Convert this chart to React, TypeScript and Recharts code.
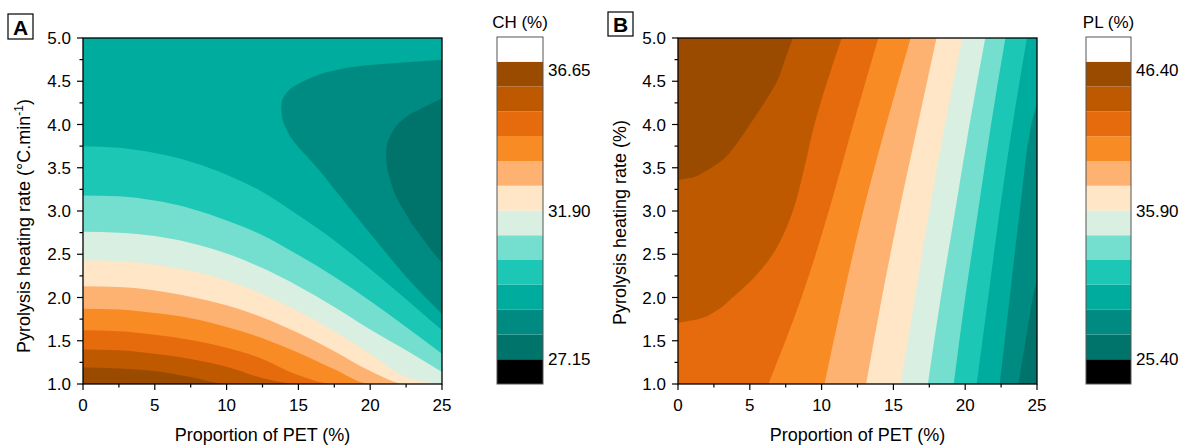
import React from 'react';
import { ComposedChart, Area, XAxis, YAxis, BarChart, Bar } from 'recharts';

const FONT = '"Liberation Sans", Arial, sans-serif';

// contour band colours, lowest band first
const bandColors = [
  '#00736b', '#008b82', '#00ac9d', '#1cc7b5', '#74dfce', '#d8efe1',
  '#fee6c6', '#fdb272', '#f88b23', '#e66b0d', '#bf5900', '#9a4b00',
];
const segColors = ['#000000', ...bandColors, '#ffffff'];

// axis ticks
const petTicks = [0, 2.5, 5, 7.5, 10, 12.5, 15, 17.5, 20, 22.5, 25];
const rateTicks = [1, 1.25, 1.5, 1.75, 2, 2.25, 2.5, 2.75, 3, 3.25, 3.5, 3.75, 4, 4.25, 4.5, 4.75, 5];

// colour bar levels
const chLevels = [26.36, 27.15, 27.94, 28.73, 29.53, 30.32, 31.11, 31.9, 32.69, 33.48, 34.28, 35.07, 35.86, 36.65, 37.44];
const chLabels = [27.15, 31.9, 36.65];
const plLevels = [23.65, 25.4, 27.15, 28.9, 30.65, 32.4, 34.15, 35.9, 37.65, 39.4, 41.15, 42.9, 44.65, 46.4, 48.15];
const plLabels = [25.4, 35.9, 46.4];

// panel A: CH contours, heating rate read at each PET value
const petGridA = [0, 2.5, 5, 7.5, 10, 12.5, 15, 17.5, 20, 22.5, 25];
const ch2953 = [3.75, 3.73, 3.67, 3.57, 3.42, 3.22, 2.95, 2.66, 2.33, 1.98, 1.62];
const ch3032 = [3.18, 3.17, 3.12, 3.03, 2.89, 2.72, 2.49, 2.24, 1.96, 1.66, 1.35];
const ch3111 = [2.76, 2.75, 2.71, 2.63, 2.51, 2.34, 2.13, 1.89, 1.63, 1.39, 1.14];
const ch3190 = [2.43, 2.42, 2.38, 2.31, 2.2, 2.04, 1.84, 1.61, 1.35, 1.08, 1.0];
const ch3269 = [2.13, 2.12, 2.08, 2.01, 1.91, 1.77, 1.59, 1.38, 1.15, 1.0, 1.0];
const ch3348 = [1.87, 1.86, 1.82, 1.76, 1.66, 1.53, 1.36, 1.17, 1.0, 1.0, 1.0];
const ch3428 = [1.62, 1.61, 1.57, 1.51, 1.42, 1.29, 1.1, 1.0, 1.0, 1.0, 1.0];
const ch3507 = [1.4, 1.39, 1.35, 1.29, 1.2, 1.07, 1.0, 1.0, 1.0, 1.0, 1.0];
const ch3586 = [1.19, 1.18, 1.15, 1.08, 1.0, 1.0, 1.0, 1.0, 1.0, 1.0, 1.0];

// panel A: closed low regions on the right (lower and upper heating rate)
const ch2873Pet = [13.8, 13.85, 13.95, 14.1, 14.3, 14.6, 15.1, 15.6, 16.5, 17.9, 20.2, 22.5, 25];
const ch2873Low = [4.19, 4.1, 4.03, 3.97, 3.9, 3.82, 3.72, 3.63, 3.46, 3.17, 2.7, 2.24, 1.81];
const ch2873High = [4.19, 4.27, 4.31, 4.35, 4.39, 4.43, 4.48, 4.52, 4.58, 4.64, 4.69, 4.72, 4.75];
const ch2794Pet = [21.1, 21.15, 21.25, 21.4, 21.6, 21.9, 22.3, 22.8, 23.4, 24.1, 25];
const ch2794Low = [3.67, 3.55, 3.45, 3.35, 3.25, 3.13, 3.02, 2.88, 2.74, 2.58, 2.4];
const ch2794High = [3.67, 3.75, 3.81, 3.87, 3.93, 4.0, 4.06, 4.12, 4.17, 4.23, 4.3];

// panel B: PL contours, PET read at each heating rate
const rateGridB = [1, 2, 3, 4, 5];
const pl2715Rate = [1, 1.5, 2, 2.27, 5];
const pl2715 = [23.7, 24.2, 24.7, 25, 25];
const pl2890Rate = [1, 2, 3, 4, 4.3, 5];
const pl2890 = [22.4, 23.1, 23.8, 24.6, 25, 25];
const pl3065 = [20.8, 21.6, 22.4, 23.3, 24.3];
const pl3240 = [19.2, 20.0, 20.9, 21.8, 22.8];
const pl3415 = [17.4, 18.3, 19.3, 20.3, 21.4];
const pl3590 = [15.5, 16.5, 17.5, 18.6, 19.8];
const pl3765 = [13.1, 14.2, 15.4, 16.7, 18.0];
const pl3940 = [10.2, 11.5, 12.9, 14.5, 16.2];
const pl4115 = [6.3, 8.6, 10.5, 12.2, 13.95];
const pl4290Rate = [1, 1.7, 1.75, 1.85, 2.0, 2.25, 2.5, 2.75, 3.0, 3.5, 4.0, 4.5, 5.0];
const pl4290 = [0, 0, 1.4, 2.7, 3.8, 5.4, 6.6, 7.4, 8.0, 8.8, 9.5, 10.4, 11.4];
const pl4465Rate = [1, 3.35, 3.39, 3.45, 3.59, 3.75, 4.0, 4.25, 4.5, 4.75, 5.0];
const pl4465 = [0, 0, 1.07, 1.8, 3.1, 3.95, 5.0, 6.0, 6.9, 7.45, 8.0];

const XTick = (props: any) => {
  const { x, y, payload } = props;
  const v = Number(payload.value);
  const major = Math.abs(v / 5 - Math.round(v / 5)) < 1e-6;
  return (
    <g>
      <line x1={x} x2={x} y1={y} y2={y + (major ? 6 : 3.5)} stroke="#000" strokeWidth={1.2} />
      {major && (
        <text x={x} y={y + 27} textAnchor="middle" fontSize={17} fontFamily={FONT} fill="#000">
          {v}
        </text>
      )}
    </g>
  );
};

const YTick = (props: any) => {
  const { x, y, payload } = props;
  const v = Number(payload.value);
  const major = Math.abs(v * 2 - Math.round(v * 2)) < 1e-6;
  return (
    <g>
      <line x1={x - (major ? 6 : 3.5)} x2={x} y1={y} y2={y} stroke="#000" strokeWidth={1.2} />
      {major && (
        <text x={x - 12} y={y} dy="0.36em" textAnchor="end" fontSize={17} fontFamily={FONT} fill="#000">
          {v.toFixed(1)}
        </text>
      )}
    </g>
  );
};

const areaStyle = {
  stroke: 'none',
  fillOpacity: 1,
  isAnimationActive: false,
  activeDot: false,
  dot: false,
} as const;

function PanelA() {
  const lines = [ch2953, ch3032, ch3111, ch3190, ch3269, ch3348, ch3428, ch3507, ch3586];
  const bg = [{ x: 0, y: 5 }, { x: 25, y: 5 }];
  const blob1 = ch2873Pet.map((x, i) => ({ x, r: [ch2873Low[i], ch2873High[i]] }));
  const blob2 = ch2794Pet.map((x, i) => ({ x, r: [ch2794Low[i], ch2794High[i]] }));
  return (
    <ComposedChart width={460} height={448} margin={{ top: 38, right: 18, bottom: 0, left: 0 }}>
      <XAxis dataKey="x" type="number" domain={[0, 25]} ticks={petTicks} interval={0} height={64}
        axisLine={false} tickLine={false} tickSize={0} tickMargin={0} tick={(p: any) => <XTick {...p} />} />
      <YAxis type="number" domain={[1, 5]} ticks={rateTicks} interval={0} width={83}
        axisLine={false} tickLine={false} tickSize={0} tickMargin={0} tick={(p: any) => <YTick {...p} />} />
      <Area data={bg} dataKey="y" type="linear" fill={bandColors[2]} {...areaStyle} />
      {lines.map((ys, i) => (
        <Area key={i} data={petGridA.map((x, j) => ({ x, y: ys[j] }))} dataKey="y" type="monotone"
          fill={bandColors[i + 3]} {...areaStyle} />
      ))}
      <Area data={blob1} dataKey="r" type="monotone" fill={bandColors[1]} {...areaStyle} />
      <Area data={blob2} dataKey="r" type="monotone" fill={bandColors[0]} {...areaStyle} />
    </ComposedChart>
  );
}

function PanelB() {
  const lines: [number[], number[]][] = [
    [pl2715Rate, pl2715], [pl2890Rate, pl2890], [rateGridB, pl3065], [rateGridB, pl3240],
    [rateGridB, pl3415], [rateGridB, pl3590], [rateGridB, pl3765], [rateGridB, pl3940],
    [rateGridB, pl4115], [pl4290Rate, pl4290], [pl4465Rate, pl4465],
  ];
  const bg = [{ y: 1, x: 25 }, { y: 5, x: 25 }];
  return (
    <ComposedChart layout="vertical" width={460} height={448} margin={{ top: 38, right: 18, bottom: 0, left: 0 }}>
      <XAxis dataKey="x" type="number" domain={[0, 25]} ticks={petTicks} interval={0} height={64}
        axisLine={false} tickLine={false} tickSize={0} tickMargin={0} tick={(p: any) => <XTick {...p} />} />
      <YAxis dataKey="y" type="number" domain={[1, 5]} ticks={rateTicks} interval={0} width={83} reversed
        axisLine={false} tickLine={false} tickSize={0} tickMargin={0} tick={(p: any) => <YTick {...p} />} />
      <Area data={bg} dataKey="x" type="linear" fill={bandColors[0]} {...areaStyle} />
      {lines.map(([rates, pets], i) => (
        <Area key={i} data={rates.map((y, j) => ({ y, x: pets[j] }))} dataKey="x" type="monotone"
          fill={bandColors[i + 1]} {...areaStyle} />
      ))}
    </ComposedChart>
  );
}

function ColorBar({ levels, labels, barWidth }: { levels: number[]; labels: number[]; barWidth: number }) {
  const row: any = { name: 'bar', base: levels[0] };
  for (let i = 0; i < levels.length - 1; i++) row['s' + i] = levels[i + 1] - levels[i];
  const top = labels[labels.length - 1];
  return (
    <BarChart width={barWidth + 58} height={347} data={[row]} margin={{ top: 0, right: 0, bottom: 0, left: 0 }}
      barCategoryGap={0}>
      <XAxis dataKey="name" hide />
      <YAxis orientation="right" type="number" domain={[levels[0], levels[levels.length - 1]]} allowDataOverflow
        ticks={labels} interval={0} width={58} axisLine={false} tickLine={false} tickSize={0} tickMargin={5}
        tick={(p: any) => (
          <text x={p.x} y={p.y + (Math.abs(p.payload.value - top) < 1e-6 ? 8 : 0)} dy="0.36em" textAnchor="start"
            fontSize={17} fontFamily={FONT} fill="#000">
            {Number(p.payload.value).toFixed(2)}
          </text>
        )} />
      <Bar dataKey="base" stackId="c" fill="transparent" isAnimationActive={false} />
      {segColors.map((c, i) => (
        <Bar key={i} dataKey={'s' + i} stackId="c" fill={c} isAnimationActive={false} />
      ))}
    </BarChart>
  );
}

export default function App() {
  const txt = { fontFamily: FONT, fill: '#000' };
  return (
    <div style={{ position: 'absolute', left: 0, top: 0, width: 1190, height: 448, background: '#fff', overflow: 'hidden', fontFamily: FONT }}>
      <div style={{ position: 'absolute', left: 0, top: 0 }}><PanelA /></div>
      <div style={{ position: 'absolute', left: 497, top: 37 }}><ColorBar levels={chLevels} labels={chLabels} barWidth={46} /></div>
      <div style={{ position: 'absolute', left: 595, top: 0 }}><PanelB /></div>
      <div style={{ position: 'absolute', left: 1086, top: 37 }}><ColorBar levels={plLevels} labels={plLabels} barWidth={45} /></div>
      <svg width={1190} height={448} style={{ position: 'absolute', left: 0, top: 0, pointerEvents: 'none' }}>
        <rect x={83} y={38} width={359} height={346} fill="none" stroke="#000" strokeWidth={1.3} />
        <rect x={678} y={38} width={359} height={346} fill="none" stroke="#000" strokeWidth={1.3} />
        <rect x={497} y={37} width={46} height={347} fill="none" stroke="#555" strokeWidth={1} />
        <rect x={1086} y={37} width={45} height={347} fill="none" stroke="#555" strokeWidth={1} />
        <text x={520} y={28} textAnchor="middle" fontSize={17} {...txt}>CH (%)</text>
        <text x={1108.5} y={28} textAnchor="middle" fontSize={17} {...txt}>PL (%)</text>
        <rect x={8} y={14} width={25} height={25} fill="#fff" stroke="#000" strokeWidth={1.2} />
        <text x={20.5} y={34.5} textAnchor="middle" fontSize={21} fontWeight="bold" {...txt}>A</text>
        <rect x={608} y={12} width={25} height={24} fill="#fff" stroke="#000" strokeWidth={1.2} />
        <text x={620.5} y={32} textAnchor="middle" fontSize={21} fontWeight="bold" {...txt}>B</text>
        <text x={262.5} y={441} textAnchor="middle" fontSize={18} {...txt}>Proportion of PET (%)</text>
        <text x={857.5} y={441} textAnchor="middle" fontSize={18} {...txt}>Proportion of PET (%)</text>
        <text x={23.5} y={226} transform="rotate(-90, 23.5, 226)" textAnchor="middle" dy="0.36em" fontSize={18} {...txt}>
          Pyrolysis heating rate (°C.min<tspan dy={-7} fontSize={12}>-1</tspan><tspan dy={7}>)</tspan>
        </text>
        <text x={620} y={222.5} transform="rotate(-90, 620, 222.5)" textAnchor="middle" dy="0.36em" fontSize={18} {...txt}>
          Pyrolysis heating rate (%)
        </text>
      </svg>
    </div>
  );
}
